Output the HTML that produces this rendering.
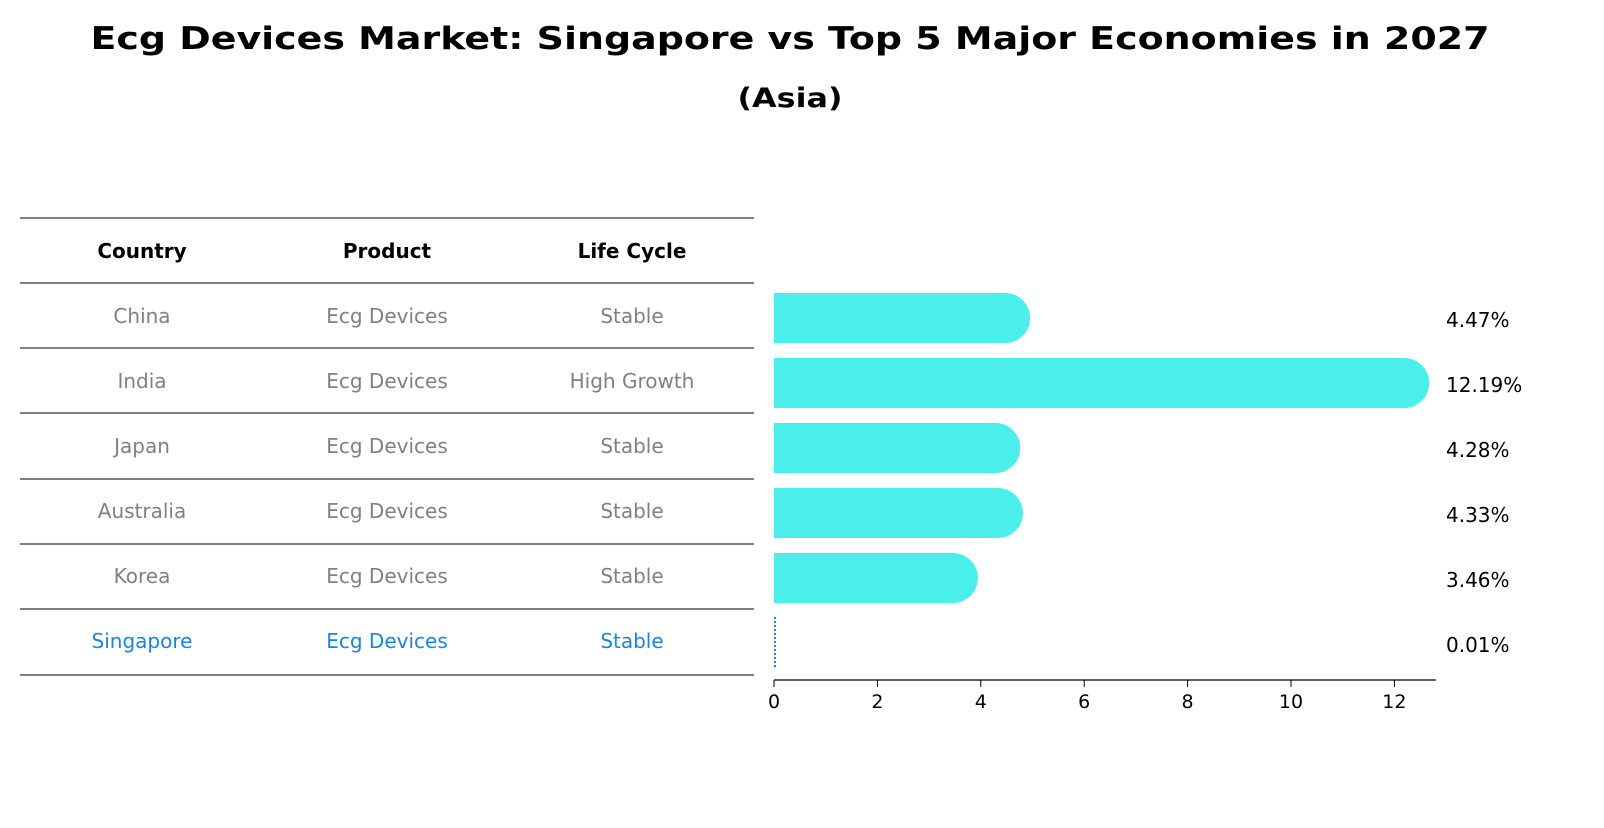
<!DOCTYPE html>
<html><head><meta charset="utf-8"><style>
body{margin:0;background:#fff;font-family:"Liberation Sans","DejaVu Sans",sans-serif}
svg text{font-family:"DejaVu Sans","Liberation Sans",sans-serif}
</style></head><body>
<svg id="c" width="1604" height="823" xmlns="http://www.w3.org/2000/svg">
<text x="790" y="49" text-anchor="middle" font-size="31" font-weight="bold" textLength="1399" lengthAdjust="spacingAndGlyphs">Ecg Devices Market: Singapore vs Top 5 Major Economies in 2027</text>
<text x="790" y="107" text-anchor="middle" font-size="27" font-weight="bold" textLength="105" lengthAdjust="spacingAndGlyphs">(Asia)</text>
<g id="table"></g>
<g id="bars"></g>
</svg>
<script>
const countries=["China","India","Japan","Australia","Korea","Singapore"];
const products=["Ecg Devices","Ecg Devices","Ecg Devices","Ecg Devices","Ecg Devices","Ecg Devices"];
const lifeCycles=["Stable","High Growth","Stable","Stable","Stable","Stable"];
const growth=[4.47,12.19,4.28,4.33,3.46,0.01];
const ticks=[0,2,4,6,8,10,12];
const NS="http://www.w3.org/2000/svg";
function mk(t,a,p){const e=document.createElementNS(NS,t);for(const k in a)e.setAttribute(k,a[k]);p.appendChild(e);return e;}
const x=v=>774+v*51.7;
const rowY=i=>315+i*65;
const tbl=document.getElementById('table'),bars=document.getElementById('bars');
const lineYs=[218,283,348,413,479,544,609,675];
lineYs.forEach((y,i)=>{const l=mk('line',{x1:20,x2:754,y1:y,y2:y,stroke:'#000','stroke-width':1},tbl);

});
const cols=[142,387,632];
["Country","Product","Life Cycle"].forEach((h,j)=>{const t=mk('text',{x:cols[j],y:258,'text-anchor':'middle','font-size':20,'font-weight':'bold'},tbl);t.textContent=h;

});
countries.forEach((c,i)=>{const col=i===countries.length-1?'#1a86d8':'#808080';
[c,products[i],lifeCycles[i]].forEach((v,j)=>{const t=mk('text',{x:cols[j],y:rowY(i)+8,'text-anchor':'middle','font-size':20,fill:col},tbl);t.textContent=v;

});
const cy=rowY(i)+3;
if(growth[i]<0.5){const d=mk('line',{x1:x(0)+1,x2:x(0)+1,y1:cy-26,y2:cy+26,stroke:'#1a86d8','stroke-width':2,'stroke-dasharray':'2,2'},bars);

}
else{const r=25;const p=mk('path',{d:`M${x(0)},${cy-r}H${x(growth[i])}A${r},${r} 0 0 1 ${x(growth[i])},${cy+r}H${x(0)}Z`,fill:'#4aeeea'},bars);

}
const t=mk('text',{x:1446,y:cy+9,'font-size':20},bars);t.textContent=growth[i].toFixed(2)+'%';

});
const ax=mk('line',{x1:774,x2:1436,y1:680,y2:680,stroke:'#000','stroke-width':1.2},bars);


ticks.forEach(v=>{const l=mk('line',{x1:x(v),x2:x(v),y1:680,y2:687,stroke:'#000'},bars);


const t=mk('text',{x:x(v),y:708,'text-anchor':'middle','font-size':19},bars);t.textContent=v;

});
</script>
</body></html>
